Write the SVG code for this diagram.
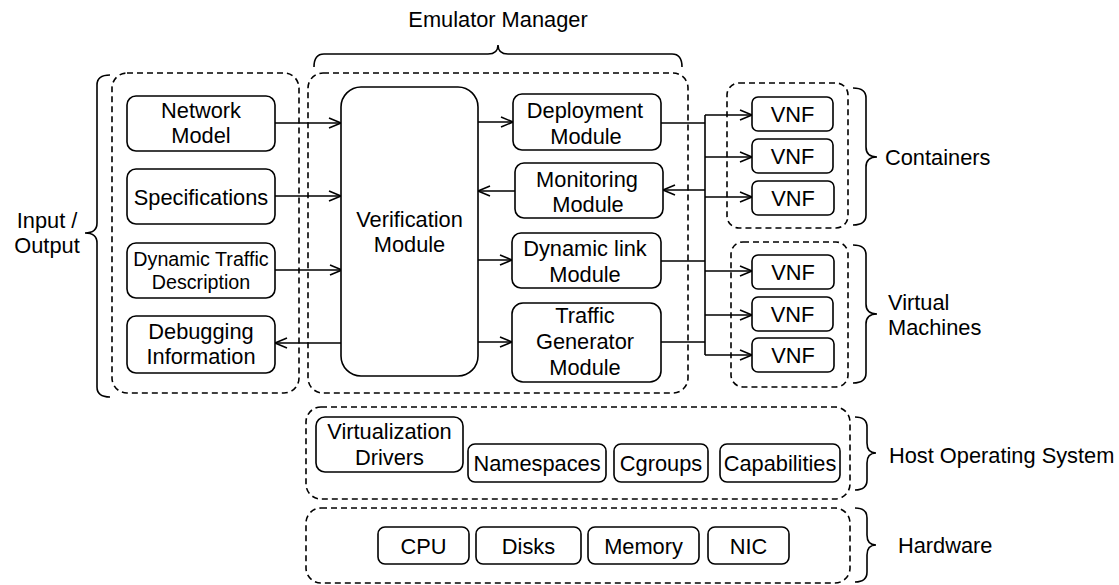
<svg xmlns="http://www.w3.org/2000/svg" width="1119" height="585" viewBox="0 0 1119 585">
<defs>
<style>
text{font-family:"Liberation Sans",Arial,sans-serif;font-size:21.8px;fill:#000;text-anchor:middle}
.l{text-anchor:start}
.sm{font-size:19.7px}
.box{fill:#fff;stroke:#000;stroke-width:1.6}
.dash{fill:none;stroke:#000;stroke-width:1.6;stroke-dasharray:6 4}
.br{fill:none;stroke:#000;stroke-width:1.6}
.c{fill:none;stroke:#000;stroke-width:1.6}
.a{marker-end:url(#arr)}
</style>
<marker id="arr" markerUnits="userSpaceOnUse" markerWidth="16" markerHeight="14" refX="13" refY="7" orient="auto">
<path d="M1,2 L13,7 L1,12" fill="none" stroke="#000" stroke-width="1.6"/>
</marker>
</defs>
<rect width="1119" height="585" fill="#fff"/>

<g id="groups">
<rect id="io-group" class="dash" x="112" y="73" width="187" height="320" rx="15"/>
<rect id="emulator-group" class="dash" x="308" y="73" width="380" height="320" rx="15"/>
<rect id="containers-group" class="dash" x="727" y="83" width="121" height="145" rx="12"/>
<rect id="vm-group" class="dash" x="731" y="242" width="117" height="145" rx="12"/>
<rect id="hostos-group" class="dash" x="306" y="407" width="544" height="92" rx="15"/>
<rect id="hardware-group" class="dash" x="306" y="508" width="544" height="75" rx="15"/>
</g>

<g id="braces">
<path class="br" d="M110,75 Q97,75 97,85 L97,223 Q97,233 85,233 Q97,233 97,243 L97,387 Q97,397 110,397"/>
<path class="br" d="M314,67 Q314,54 324,54 L488,54 Q498,54 498,45 Q498,54 508,54 L672,54 Q682,54 682,67"/>
<path class="br" d="M853,88 Q866,88 866,98 L866,147 Q866,157 877,157 Q866,157 866,167 L866,215 Q866,225 853,225"/>
<path class="br" d="M853,245 Q866,245 866,255 L866,304 Q866,314 877,314 Q866,314 866,324 L866,373 Q866,383 853,383"/>
<path class="br" d="M855,417 Q867,417 867,427 L867,443 Q867,453 876,453 Q867,453 867,463 L867,480 Q867,490 855,490"/>
<path class="br" d="M855,508 Q867,508 867,518 L867,535 Q867,545 876,545 Q867,545 867,555 L867,572 Q867,582 855,582"/>
</g>

<g id="labels">
<text x="498" y="27">Emulator Manager</text>
<text x="47" y="228">Input /</text>
<text x="47" y="253">Output</text>
<text class="l" x="885" y="165">Containers</text>
<text class="l" x="888" y="310">Virtual</text>
<text class="l" x="888" y="335">Machines</text>
<text class="l" x="889" y="463">Host Operating System</text>
<text class="l" x="898" y="553">Hardware</text>
</g>

<g id="connectors">
<line class="c a" x1="275" y1="123" x2="341" y2="123"/>
<line class="c a" x1="275" y1="196" x2="341" y2="196"/>
<line class="c a" x1="275" y1="270" x2="342" y2="270"/>
<line class="c a" x1="341" y1="343" x2="275" y2="343"/>
<line class="c a" x1="478" y1="122" x2="513" y2="122"/>
<line class="c a" x1="515" y1="191" x2="478" y2="191"/>
<line class="c a" x1="478" y1="260" x2="512" y2="260"/>
<line class="c a" x1="478" y1="342" x2="512" y2="342"/>
<line class="c" x1="661" y1="123" x2="705" y2="123"/>
<line class="c" x1="705" y1="115" x2="705" y2="355"/>
<line class="c" x1="661" y1="261" x2="705" y2="261"/>
<line class="c" x1="661" y1="342" x2="705" y2="342"/>
<line class="c a" x1="705" y1="190" x2="663" y2="190"/>
<line class="c a" x1="705" y1="115" x2="752" y2="115"/>
<line class="c a" x1="705" y1="157" x2="752" y2="157"/>
<line class="c a" x1="705" y1="197" x2="752" y2="197"/>
<line class="c a" x1="705" y1="271" x2="752" y2="271"/>
<line class="c a" x1="705" y1="315" x2="752" y2="315"/>
<line class="c a" x1="705" y1="355" x2="752" y2="355"/>
</g>

<g id="network-model"><rect class="box" x="127" y="96" width="148" height="55" rx="9"/><text x="201" y="118">Network</text><text x="201" y="143">Model</text></g>
<g id="specifications"><rect class="box" x="127" y="169" width="148" height="55" rx="9"/><text x="201" y="205">Specifications</text></g>
<g id="dynamic-traffic"><rect class="box" x="127" y="243" width="148" height="55" rx="9"/><text class="sm" x="201" y="266">Dynamic Traffic</text><text class="sm" x="201" y="289">Description</text></g>
<g id="debugging"><rect class="box" x="127" y="316" width="148" height="57" rx="9"/><text x="201" y="339">Debugging</text><text x="201" y="364">Information</text></g>
<g id="verification"><rect class="box" x="341" y="87" width="137" height="289" rx="20"/><text x="409.5" y="227">Verification</text><text x="409.5" y="252">Module</text></g>
<g id="deployment"><rect class="box" x="513" y="94" width="148" height="56" rx="9"/><text x="585" y="118">Deployment</text><text x="586" y="144">Module</text></g>
<g id="monitoring"><rect class="box" x="515" y="163" width="148" height="55" rx="9"/><text x="587" y="187">Monitoring</text><text x="588" y="212">Module</text></g>
<g id="dynamic-link"><rect class="box" x="512" y="233" width="149" height="55" rx="9"/><text x="585" y="256">Dynamic link</text><text x="585" y="282">Module</text></g>
<g id="traffic-generator"><rect class="box" x="512" y="303" width="149" height="79" rx="11"/><text x="585" y="323">Traffic</text><text x="585" y="349">Generator</text><text x="585" y="375">Module</text></g>

<g id="vnf1"><rect class="box" x="752" y="97" width="81" height="34" rx="6"/><text x="792.5" y="121.5">VNF</text></g>
<g id="vnf2"><rect class="box" x="752" y="139" width="81" height="34" rx="6"/><text x="792.5" y="163.5">VNF</text></g>
<g id="vnf3"><rect class="box" x="752" y="181" width="82" height="34" rx="6"/><text x="793" y="205.5">VNF</text></g>
<g id="vnf4"><rect class="box" x="752" y="255" width="82" height="34" rx="6"/><text x="793" y="279.5">VNF</text></g>
<g id="vnf5"><rect class="box" x="752" y="297" width="81" height="34" rx="6"/><text x="792.5" y="321.5">VNF</text></g>
<g id="vnf6"><rect class="box" x="752" y="338" width="82" height="34" rx="6"/><text x="793" y="362.5">VNF</text></g>

<g id="virtualization-drivers"><rect class="box" x="316" y="417" width="147" height="55" rx="9"/><text x="389.5" y="439">Virtualization</text><text x="389.5" y="465">Drivers</text></g>
<g id="namespaces"><rect class="box" x="468" y="444" width="138" height="38" rx="7"/><text x="537" y="471">Namespaces</text></g>
<g id="cgroups"><rect class="box" x="614" y="444" width="94" height="38" rx="7"/><text x="661" y="471">Cgroups</text></g>
<g id="capabilities"><rect class="box" x="720" y="444" width="120" height="38" rx="7"/><text x="780" y="471">Capabilities</text></g>

<g id="cpu"><rect class="box" x="378" y="527" width="91" height="37" rx="7"/><text x="423.5" y="554">CPU</text></g>
<g id="disks"><rect class="box" x="476" y="527" width="105" height="37" rx="7"/><text x="528.5" y="554">Disks</text></g>
<g id="memory"><rect class="box" x="588" y="527" width="111" height="37" rx="7"/><text x="643.5" y="554">Memory</text></g>
<g id="nic"><rect class="box" x="708" y="527" width="81" height="37" rx="7"/><text x="748.5" y="554">NIC</text></g>
</svg>
